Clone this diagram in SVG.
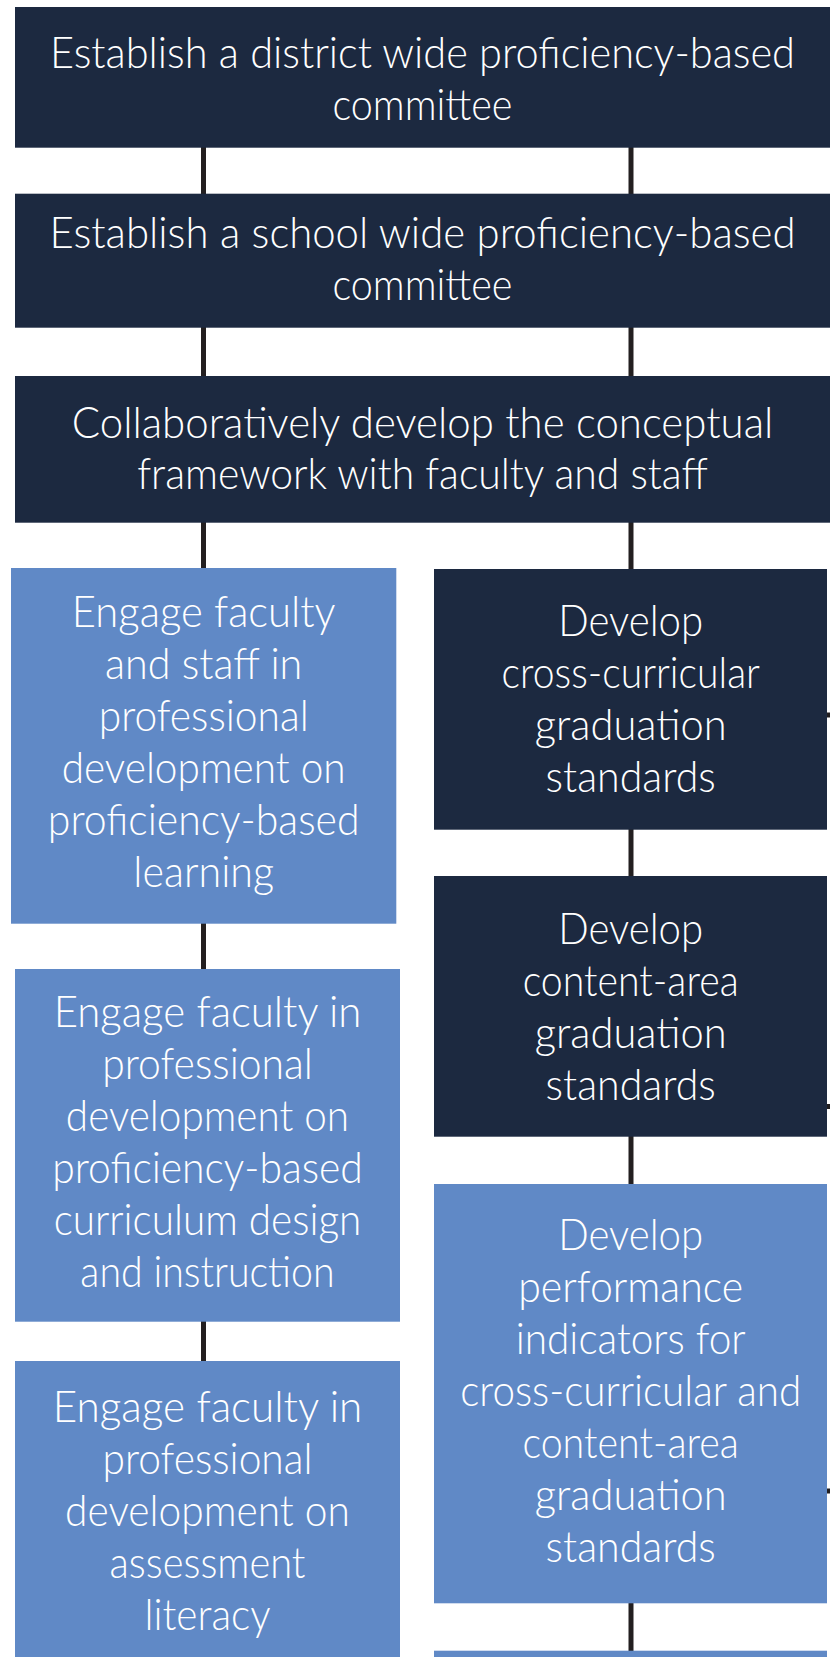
<svg xmlns="http://www.w3.org/2000/svg" width="830" height="1657" viewBox="0 0 830 1657">
  <style>
    .dark { fill: #1c2940; }
    .light { fill: #6089c6; }
    .lbl { font-family: Lato, "Open Sans", "Liberation Sans", sans-serif; font-weight: 300; font-size: 44px; fill: #ffffff; text-anchor: middle; }
    .wire { stroke: #231f20; stroke-width: 5; fill: none; }
  </style>
  <rect width="830" height="1657" fill="#ffffff"/>

  <!-- connectors -->
  <g id="connectors">
    <line class="wire" x1="203.5" y1="146" x2="203.5" y2="196"/>
    <line class="wire" x1="203.5" y1="326" x2="203.5" y2="378"/>
    <line class="wire" x1="203.5" y1="521" x2="203.5" y2="570"/>
    <line class="wire" x1="203.5" y1="922" x2="203.5" y2="971"/>
    <line class="wire" x1="203.5" y1="1320" x2="203.5" y2="1363"/>
    <line class="wire" x1="631" y1="146" x2="631" y2="196"/>
    <line class="wire" x1="631" y1="326" x2="631" y2="378"/>
    <line class="wire" x1="631" y1="521" x2="631" y2="571"/>
    <line class="wire" x1="631" y1="828" x2="631" y2="878"/>
    <line class="wire" x1="631" y1="1135" x2="631" y2="1186"/>
    <line class="wire" x1="631" y1="1602" x2="631" y2="1653"/>
    <line class="wire" x1="826" y1="715" x2="830" y2="715"/>
    <line class="wire" x1="826" y1="1106.5" x2="830" y2="1106.5"/>
    <line class="wire" x1="826" y1="1491" x2="830" y2="1491"/>
  </g>

  <g id="district-committee">
    <rect class="dark" x="15" y="7" width="815" height="140.7"/>
    <text class="lbl" x="422.5" y="68" textLength="745" lengthAdjust="spacingAndGlyphs">Establish a district wide proficiency-based</text>
    <text class="lbl" x="422.5" y="120" textLength="180" lengthAdjust="spacingAndGlyphs">committee</text>
  </g>

  <g id="school-committee">
    <rect class="dark" x="15" y="193.7" width="815" height="134"/>
    <text class="lbl" x="422.5" y="248.3" textLength="746" lengthAdjust="spacingAndGlyphs">Establish a school wide proficiency-based</text>
    <text class="lbl" x="422.5" y="300.3" textLength="180" lengthAdjust="spacingAndGlyphs">committee</text>
  </g>

  <g id="conceptual-framework">
    <rect class="dark" x="15" y="376" width="815" height="146.7"/>
    <text class="lbl" x="422.5" y="437.5" textLength="701.5" lengthAdjust="spacingAndGlyphs">Collaboratively develop the conceptual</text>
    <text class="lbl" x="422.5" y="489.3" textLength="570.7" lengthAdjust="spacingAndGlyphs">framework with faculty and staff</text>
  </g>

  <g id="pd-learning">
    <rect class="light" x="11" y="568" width="385.3" height="355.7"/>
    <text class="lbl" x="203.7" y="626.5" textLength="263.7" lengthAdjust="spacingAndGlyphs">Engage faculty</text>
    <text class="lbl" x="203.7" y="678.5" textLength="197.3" lengthAdjust="spacingAndGlyphs">and staff in</text>
    <text class="lbl" x="203.7" y="730.5" textLength="210" lengthAdjust="spacingAndGlyphs">professional</text>
    <text class="lbl" x="203.7" y="782.5" textLength="284" lengthAdjust="spacingAndGlyphs">development on</text>
    <text class="lbl" x="203.7" y="834.5" textLength="311.7" lengthAdjust="spacingAndGlyphs">proficiency-based</text>
    <text class="lbl" x="203.7" y="886.5" textLength="140.7" lengthAdjust="spacingAndGlyphs">learning</text>
  </g>

  <g id="pd-curriculum">
    <rect class="light" x="15" y="969" width="385" height="352.7"/>
    <text class="lbl" x="207.5" y="1026.7" textLength="307.7" lengthAdjust="spacingAndGlyphs">Engage faculty in</text>
    <text class="lbl" x="207.5" y="1078.7" textLength="210.7" lengthAdjust="spacingAndGlyphs">professional</text>
    <text class="lbl" x="207.5" y="1130.7" textLength="283.3" lengthAdjust="spacingAndGlyphs">development on</text>
    <text class="lbl" x="207.5" y="1182.7" textLength="310.7" lengthAdjust="spacingAndGlyphs">proficiency-based</text>
    <text class="lbl" x="207.5" y="1234.7" textLength="307.7" lengthAdjust="spacingAndGlyphs">curriculum design</text>
    <text class="lbl" x="207.5" y="1286.7" textLength="254.3" lengthAdjust="spacingAndGlyphs">and instruction</text>
  </g>

  <g id="pd-assessment">
    <rect class="light" x="15" y="1361" width="385" height="296"/>
    <text class="lbl" x="207.5" y="1422" textLength="309.7" lengthAdjust="spacingAndGlyphs">Engage faculty in</text>
    <text class="lbl" x="207.5" y="1474" textLength="210" lengthAdjust="spacingAndGlyphs">professional</text>
    <text class="lbl" x="207.5" y="1526" textLength="284.8" lengthAdjust="spacingAndGlyphs">development on</text>
    <text class="lbl" x="207.5" y="1578" textLength="196" lengthAdjust="spacingAndGlyphs">assessment</text>
    <text class="lbl" x="207.5" y="1630" textLength="126" lengthAdjust="spacingAndGlyphs">literacy</text>
  </g>

  <g id="cross-curricular-standards">
    <rect class="dark" x="434" y="569" width="393" height="260.7"/>
    <text class="lbl" x="630.7" y="635.5" textLength="145" lengthAdjust="spacingAndGlyphs">Develop</text>
    <text class="lbl" x="630.7" y="687.5" textLength="258.4" lengthAdjust="spacingAndGlyphs">cross-curricular</text>
    <text class="lbl" x="630.7" y="739.5" textLength="192" lengthAdjust="spacingAndGlyphs">graduation</text>
    <text class="lbl" x="630.7" y="791.5" textLength="170.2" lengthAdjust="spacingAndGlyphs">standards</text>
  </g>

  <g id="content-area-standards">
    <rect class="dark" x="434" y="876" width="393" height="260.7"/>
    <text class="lbl" x="630.7" y="943.5" textLength="145" lengthAdjust="spacingAndGlyphs">Develop</text>
    <text class="lbl" x="630.7" y="995.5" textLength="216" lengthAdjust="spacingAndGlyphs">content-area</text>
    <text class="lbl" x="630.7" y="1047.5" textLength="192" lengthAdjust="spacingAndGlyphs">graduation</text>
    <text class="lbl" x="630.7" y="1099.5" textLength="170.2" lengthAdjust="spacingAndGlyphs">standards</text>
  </g>

  <g id="performance-indicators">
    <rect class="light" x="434" y="1184" width="393" height="419.3"/>
    <text class="lbl" x="630.7" y="1250" textLength="145" lengthAdjust="spacingAndGlyphs">Develop</text>
    <text class="lbl" x="630.7" y="1302" textLength="225" lengthAdjust="spacingAndGlyphs">performance</text>
    <text class="lbl" x="630.7" y="1354" textLength="230" lengthAdjust="spacingAndGlyphs">indicators for</text>
    <text class="lbl" x="630.7" y="1406" textLength="341" lengthAdjust="spacingAndGlyphs">cross-curricular and</text>
    <text class="lbl" x="630.7" y="1458" textLength="216.5" lengthAdjust="spacingAndGlyphs">content-area</text>
    <text class="lbl" x="630.7" y="1510" textLength="192" lengthAdjust="spacingAndGlyphs">graduation</text>
    <text class="lbl" x="630.7" y="1562" textLength="170.2" lengthAdjust="spacingAndGlyphs">standards</text>
  </g>

  <g id="next-step">
    <rect class="light" x="434" y="1650.7" width="393" height="7"/>
  </g>
</svg>
